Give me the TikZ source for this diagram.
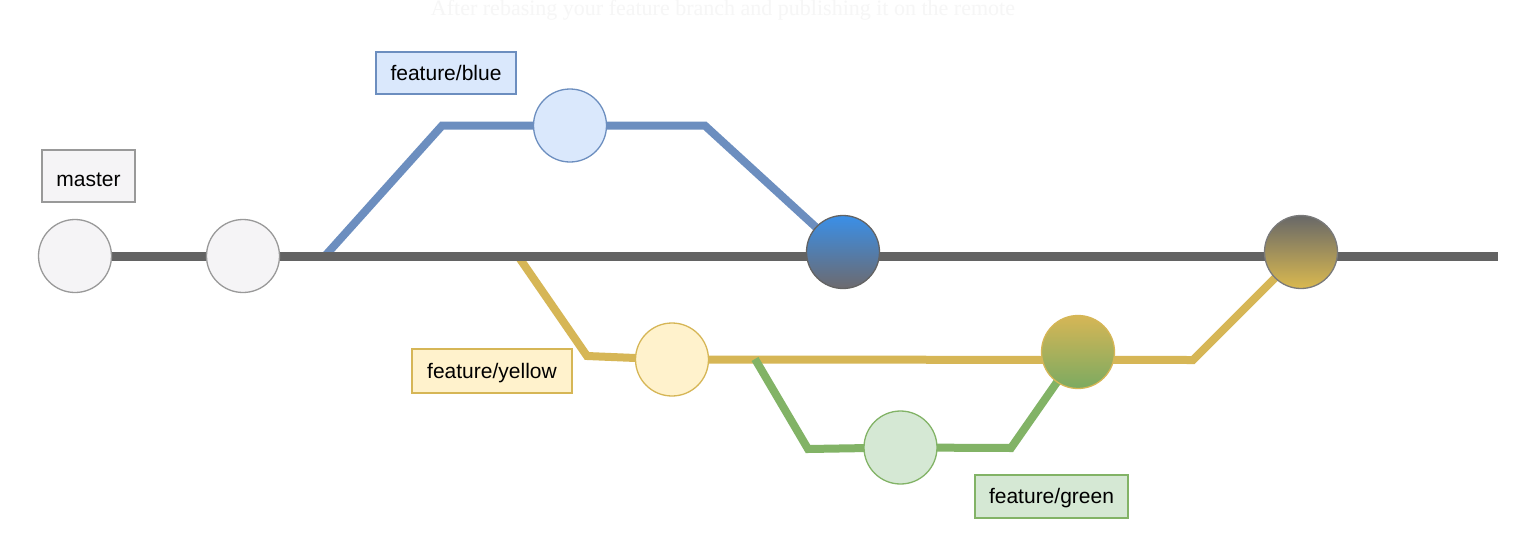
\documentclass[tikz,border=0pt]{standalone}
\usepackage{fontspec}
\newfontfamily\labfont{Liberation Sans}
\newfontfamily\titlefont{Liberation Serif}
\usetikzlibrary{backgrounds}
\definecolor{mainc}{HTML}{636363}
\definecolor{bluec}{HTML}{6C8EBF}
\definecolor{bluef}{HTML}{DAE8FC}
\definecolor{yellc}{HTML}{D6B656}
\definecolor{yellf}{HTML}{FFF2CC}
\definecolor{greenc}{HTML}{82B366}
\definecolor{greenf}{HTML}{D5E8D4}
\definecolor{grayf}{HTML}{F5F4F6}
\definecolor{grayd}{HTML}{999999}
\definecolor{mbtop}{HTML}{3A8FE8}
\definecolor{mbbot}{HTML}{6D6A6E}
\definecolor{mftop}{HTML}{686868}
\definecolor{mfbot}{HTML}{DAB94F}
\definecolor{titlec}{HTML}{F6F6F6}
\newcommand{\lowered}[2]{\raisebox{-#1}[0pt][0pt]{#2}}
\begin{document}
\begin{tikzpicture}[x=1pt,y=-1pt,
  commit/.style={circle,minimum size=73pt,inner sep=0pt,line width=1.3pt},
  label/.style={rectangle,inner sep=0pt,line width=1.3pt,font=\labfont\fontsize{21}{25}\selectfont},
  branchline/.style={line width=8pt},
  mainline/.style={line width=9pt,mainc}]
\useasboundingbox (0,0) rectangle (1537,552);
\node[font=\titlefont\fontsize{22}{26}\selectfont,text=titlec,anchor=base] (title) at (723,15.5) {After rebasing your feature branch and publishing it on the remote};
% commits
\node[commit,draw=grayd,fill=grayf] (c1) at (75,256) {};
\node[commit,draw=grayd,fill=grayf] (c2) at (243,256) {};
\node[commit,draw=bluec,fill=bluef] (blue) at (570,125.5) {};
\node[commit,draw=mainc,top color=mbtop,bottom color=mbbot] (mb) at (843,252) {};
\node[commit,draw=grayd!80!black,top color=mftop,bottom color=mfbot] (mf) at (1301,252) {};
\node[commit,draw=yellc,fill=yellf] (yellow) at (672,359.5) {};
\node[commit,draw=yellc,top color=yellc,bottom color=greenc!95!black] (ygm) at (1078,352) {};
\node[commit,draw=greenc,fill=greenf] (green) at (900.5,447.5) {};
% labels
\node[label,draw=grayd,fill=grayf,minimum width=93pt,minimum height=52pt] (lmaster) at (88.5,176) {\lowered{10.7pt}{master}};
\node[label,draw=bluec,fill=bluef,minimum width=140pt,minimum height=42pt] (lblue) at (446,73) {\lowered{7.7pt}{feature/blue}};
\node[label,draw=yellc,fill=yellf,minimum width=160pt,minimum height=44pt] (lyellow) at (492,371) {\lowered{7.3pt}{feature/yellow}};
\node[label,draw=greenc,fill=greenf,minimum width=153pt,minimum height=43pt] (lgreen) at (1051.5,496.5) {\lowered{6.9pt}{feature/green}};
% coordinates
\coordinate (mend) at (1498,256);
\coordinate (bstart) at (325,256);
\coordinate (bk1) at (442,125.7);
\coordinate (bk2) at (705,125.7);
\coordinate (ystart) at (518,256);
\coordinate (yk1) at (587,356);
\coordinate (yk2) at (1193,360);
\coordinate (gstart) at (755,359);
\coordinate (gk1) at (808,449);
\coordinate (gk2) at (1011,448);
\begin{scope}[on background layer]
\fill[white] (0,0) rectangle (1537,552);
\draw[branchline,bluec] (bstart) -- (bk1) -- (blue.center) -- (bk2) -- (mb.center);
\draw[branchline,yellc] (ystart) -- (yk1) -- (yellow.center) -- (yk2) -- (mf.center);
\draw[branchline,greenc] (gstart) -- (gk1) -- (green.center) -- (gk2) -- (ygm.center);
\draw[mainline] (c1.center) -- (c2.center) -- (mend);
\end{scope}
\end{tikzpicture}
\end{document}
